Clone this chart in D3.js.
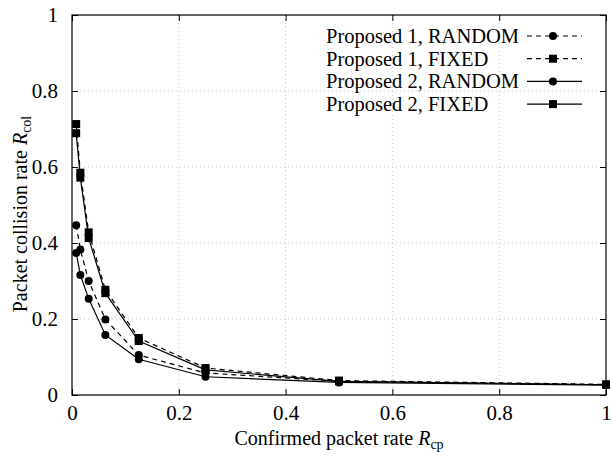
<!DOCTYPE html>
<html>
<head>
<meta charset="utf-8">
<script src="https://cdn.jsdelivr.net/npm/d3@7"></script>
<style>
  body { margin: 0; background: #fff; }
</style>
</head>
<body>
<svg id="chart" width="612" height="457"></svg>
<script>
// confirmed packet rate (x values)
const xVals = [1/128, 1/64, 1/32, 1/16, 1/8, 1/4, 1/2, 1];
const p1Random = [0.447, 0.383, 0.300, 0.199, 0.105, 0.058, 0.036, 0.027];
const p1Fixed  = [0.713, 0.585, 0.428, 0.277, 0.150, 0.071, 0.038, 0.028];
const p2Random = [0.374, 0.316, 0.253, 0.158, 0.094, 0.048, 0.033, 0.026];
const p2Fixed  = [0.689, 0.572, 0.413, 0.268, 0.142, 0.066, 0.036, 0.027];
const tickVals = [0, 0.2, 0.4, 0.6, 0.8, 1];

const seriesList = [
  { name: "Proposed 1, RANDOM", values: p1Random, dash: "5,4", marker: "circle" },
  { name: "Proposed 1, FIXED",  values: p1Fixed,  dash: "5,4", marker: "square" },
  { name: "Proposed 2, RANDOM", values: p2Random, dash: null,  marker: "circle" },
  { name: "Proposed 2, FIXED",  values: p2Fixed,  dash: null,  marker: "square" }
];

const FONT = "'Liberation Serif'";

const svg = d3.select("#chart");
const margin = { left: 72, right: 6, top: 15, bottom: 62 };
const width = 612 - margin.left - margin.right;
const height = 457 - margin.top - margin.bottom;

const g = svg.append("g")
  .attr("transform", "translate(" + margin.left + "," + margin.top + ")");

const x = d3.scaleLinear().domain([0, 1]).range([0, width]);
const y = d3.scaleLinear().domain([0, 1]).range([height, 0]);
const fmt = d => d === 0 ? "0" : d === 1 ? "1" : d3.format(".1f")(d);

// dotted grid on the inner ticks
const inner = tickVals.filter(d => d > 0 && d < 1);
g.append("g").selectAll("line").data(inner).enter().append("line")
  .attr("x1", d => x(d)).attr("x2", d => x(d))
  .attr("y1", 0).attr("y2", height)
  .attr("stroke", "#c8c8c8").attr("stroke-width", 1).attr("stroke-dasharray", "1,3");
g.append("g").selectAll("line").data(inner).enter().append("line")
  .attr("y1", d => y(d)).attr("y2", d => y(d))
  .attr("x1", 0).attr("x2", width)
  .attr("stroke", "#c8c8c8").attr("stroke-width", 1).attr("stroke-dasharray", "1,3");

// axes with inward ticks on all four sides
const styleAxis = sel => {
  sel.select(".domain").remove();
  sel.selectAll(".tick line").attr("stroke", "#000");
  sel.selectAll("text").attr("fill", "#000")
    .style("font-family", FONT).style("font-size", "21px");
};
g.append("g").attr("transform", "translate(0," + height + ")")
  .call(d3.axisBottom(x).tickValues(tickVals).tickSize(-6).tickPadding(10).tickFormat(fmt))
  .call(styleAxis);
g.append("g")
  .call(d3.axisTop(x).tickValues(tickVals).tickSize(-6).tickFormat(""))
  .call(styleAxis);
g.append("g")
  .call(d3.axisLeft(y).tickValues(tickVals).tickSize(-6).tickPadding(14).tickFormat(fmt))
  .call(styleAxis);
g.append("g").attr("transform", "translate(" + width + ",0)")
  .call(d3.axisRight(y).tickValues(tickVals).tickSize(-6).tickFormat(""))
  .call(styleAxis);

g.append("rect")
  .attr("width", width).attr("height", height)
  .attr("fill", "none").attr("stroke", "#000").attr("stroke-width", 1.2);

// series lines and markers
const line = d3.line().x((d, i) => x(xVals[i])).y(d => y(d));

function drawMarker(sel, type) {
  if (type === "circle") {
    sel.append("circle").attr("r", 4).attr("fill", "#000");
  } else {
    sel.append("rect").attr("x", -4).attr("y", -4)
      .attr("width", 8).attr("height", 8).attr("fill", "#000");
  }
}

seriesList.forEach(function(s) {
  g.append("path")
    .datum(s.values)
    .attr("d", line)
    .attr("fill", "none")
    .attr("stroke", "#000")
    .attr("stroke-width", 1.2)
    .attr("stroke-dasharray", s.dash);

  g.append("g").selectAll("g").data(s.values).enter().append("g")
    .attr("transform", (d, i) => "translate(" + x(xVals[i]) + "," + y(d) + ")")
    .each(function() { drawMarker(d3.select(this), s.marker); });
});

// legend
const legend = svg.append("g");
seriesList.forEach(function(s, i) {
  const row = legend.append("g").attr("transform", "translate(0," + (36 + i * 22.7) + ")");
  row.append("text")
    .attr("x", 326).attr("y", 7)
    .style("font-family", FONT).style("font-size", "20.5px")
    .text(s.name);
  row.append("line")
    .attr("x1", 527).attr("x2", 582).attr("y1", 0).attr("y2", 0)
    .attr("stroke", "#000").attr("stroke-width", 1.2)
    .attr("stroke-dasharray", s.dash);
  drawMarker(row.append("g").attr("transform", "translate(553,0)"), s.marker);
});

// axis titles
const xt = svg.append("text")
  .attr("x", margin.left + width / 2).attr("y", 445)
  .attr("text-anchor", "middle")
  .style("font-family", FONT).style("font-size", "20px");
xt.append("tspan").text("Confirmed packet rate ");
xt.append("tspan").style("font-style", "italic").text("R");
xt.append("tspan").style("font-size", "14px").attr("dy", 4).text("cp");

const yt = svg.append("text")
  .attr("transform", "translate(27,214) rotate(-90)")
  .attr("text-anchor", "middle")
  .style("font-family", FONT).style("font-size", "20px");
yt.append("tspan").text("Packet collision rate ");
yt.append("tspan").style("font-style", "italic").text("R");
yt.append("tspan").style("font-size", "14px").attr("dy", 4).text("col");
</script>
</body>
</html>
